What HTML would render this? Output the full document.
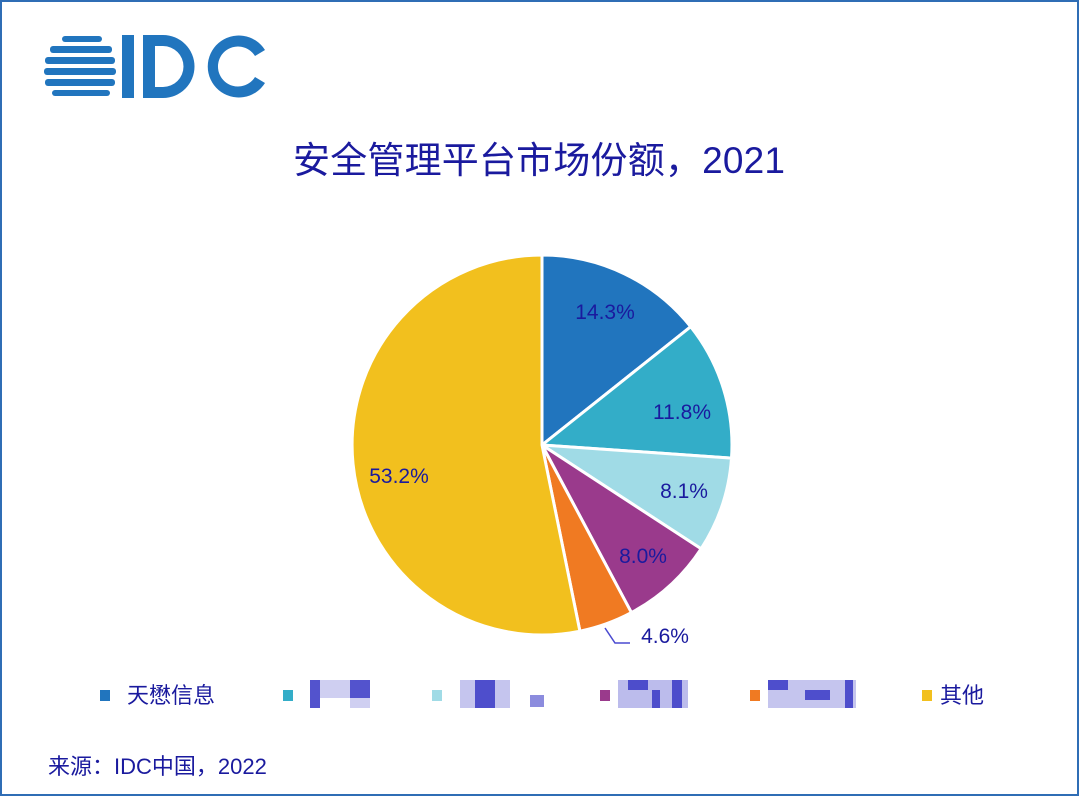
<!DOCTYPE html>
<html><head><meta charset="utf-8"><style>
body{margin:0;background:#fff;}
svg{display:block}
text{font-family:"Liberation Sans","Noto Sans CJK SC",sans-serif;}
</style></head><body>
<svg width="1080" height="797" viewBox="0 0 1080 797" xmlns="http://www.w3.org/2000/svg">
<rect x="1" y="1" width="1077" height="794" fill="#fff" stroke="#2f6db5" stroke-width="2"/>
<g fill="#2175be">
<rect x="62" y="36" width="40" height="6" rx="3"/>
<rect x="50" y="46" width="62" height="7" rx="3"/>
<rect x="45" y="57" width="70" height="7" rx="3"/>
<rect x="44" y="68" width="72" height="7" rx="3"/>
<rect x="45" y="79" width="70" height="7" rx="3"/>
<rect x="52" y="90" width="58" height="6" rx="3"/>
<rect x="122" y="35" width="12" height="63"/>
<path d="M143 35 h20 a31 31 0 0 1 0 63 h-20 z M155 46 v41 h8 a20 20 0 0 0 0 -41 z" fill-rule="evenodd"/>
<path d="M265 50 a31 31 0 1 0 0 33 l-10 -6 a20 20 0 1 1 0 -21 z"/>
</g>
<text x="539" y="173" text-anchor="middle" font-size="37" fill="#1a1a9e" textLength="492">安全管理平台市场份额，2021</text>
<g stroke="#fff" stroke-width="3">
<path d="M542 445 L542 255 A190 190 0 0 1 690.7 326.7 Z" fill="#2175be"/>
<path d="M542 445 L690.7 326.7 A190 190 0 0 1 731.5 458.1 Z" fill="#33adc8"/>
<path d="M542 445 L731.5 458.1 A190 190 0 0 1 701.1 548.8 Z" fill="#a0dbe6"/>
<path d="M542 445 L701.1 548.8 A190 190 0 0 1 631.4 612.6 Z" fill="#9a3a8c"/>
<path d="M542 445 L631.4 612.6 A190 190 0 0 1 579.9 631.2 Z" fill="#f07a22"/>
<path d="M542 445 L579.9 631.2 A190 190 0 1 1 542 255 Z" fill="#f2c01e"/>
</g>
<g font-size="21" fill="#1a1a9e" text-anchor="middle">
<text x="605" y="319">14.3%</text>
<text x="682" y="419">11.8%</text>
<text x="684" y="498">8.1%</text>
<text x="643" y="563">8.0%</text>
<text x="665" y="643">4.6%</text>
<text x="399" y="483">53.2%</text>
</g>
<path d="M605 628 L615 643 L630 643" fill="none" stroke="#4a4ad0" stroke-width="1.5"/>
<g font-size="22" fill="#1a1a9e">
<rect x="100" y="690" width="10" height="11" fill="#2175be"/>
<text x="127" y="703">天懋信息</text>
<rect x="283" y="690" width="10" height="11" fill="#33adc8"/>
<rect x="432" y="690" width="10" height="11" fill="#a0dbe6"/>
<rect x="600" y="690" width="10" height="11" fill="#9a3a8c"/>
<rect x="750" y="690" width="10" height="11" fill="#f07a22"/>
<rect x="922" y="690" width="10" height="11" fill="#f2c01e"/>
<text x="940" y="703">其他</text>
</g>
<g fill="#4040c8">
<rect x="310" y="680" width="10" height="28" opacity=".9"/><rect x="320" y="680" width="30" height="18" opacity=".25"/><rect x="350" y="680" width="20" height="18" opacity=".9"/><rect x="350" y="698" width="20" height="10" opacity=".25"/>
<rect x="460" y="680" width="50" height="28" opacity=".3"/><rect x="475" y="680" width="20" height="28" opacity=".9"/><rect x="530" y="695" width="14" height="12" opacity=".6"/>
<rect x="618" y="680" width="70" height="28" opacity=".35"/><rect x="628" y="680" width="20" height="10" opacity=".9"/><rect x="652" y="690" width="8" height="18" opacity=".9"/><rect x="672" y="680" width="10" height="28" opacity=".9"/>
<rect x="768" y="680" width="88" height="28" opacity=".3"/><rect x="768" y="680" width="20" height="10" opacity=".9"/><rect x="805" y="690" width="25" height="10" opacity=".9"/><rect x="845" y="680" width="8" height="28" opacity=".9"/>
</g>
<text x="48" y="774" font-size="22" fill="#1a1a9e">来源：IDC中国，2022</text>
</svg>
</body></html>
